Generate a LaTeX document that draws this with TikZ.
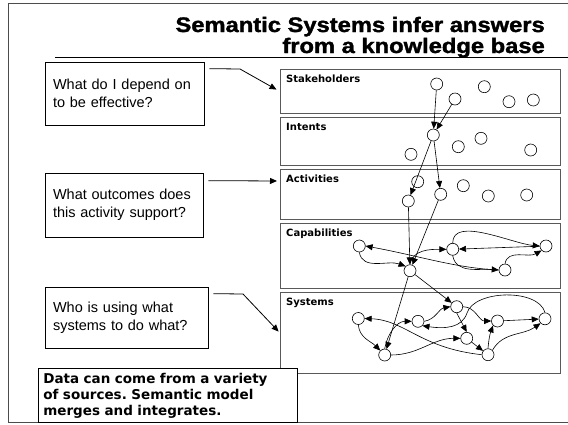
\documentclass[tikz,border=0pt]{standalone}
\usepackage{fontspec}
\setmainfont{Liberation Sans}
\newfontfamily\vsans{DejaVu Sans}
\newfontfamily\heavysans{Liberation Sans}[BoldFeatures={FakeBold=1.5}]
\usepackage{graphicx}
\usetikzlibrary{arrows.meta}
\frenchspacing

\tikzset{
  heading/.style={anchor=base east, inner sep=0pt, font=\heavysans\bfseries\fontsize{21}{23}\selectfont},
  panel/.style={draw=black!65, line width=1.1pt, minimum width=280pt, anchor=north west, inner sep=0pt},
  layer/.style={anchor=base west, inner sep=0pt, font=\vsans\bfseries\fontsize{10}{12}\selectfont},
  ent/.style={circle, draw, fill=white, minimum size=12pt, inner sep=0pt, line width=0.6pt},
  question/.style={draw, line width=0.7pt, align=left, inner xsep=8pt, font=\fontsize{14.5}{18}\selectfont},
  notebox/.style={draw, fill=white, line width=0.7pt, anchor=north west, align=left, inner xsep=5pt,
    font=\vsans\bfseries\fontsize{13.5}{16}\selectfont},
  link/.style={->, line width=0.6pt},
}

\begin{document}
\begin{tikzpicture}[x=1pt, y=1pt, >={Triangle[length=7pt,width=6pt]}]
\useasboundingbox (0,0) rectangle (568,-424);

% frame and heading
\draw[black!70, line width=0.9pt] (568,-3) -- (8,-3) -- (8,-422) -- (568,-422);
\node[heading] (head1) at (545,-32) {\scalebox{1.13}[1]{Semantic Systems infer answers}};
\node[heading] (head2) at (545,-53) {\scalebox{1.13}[1]{from a knowledge base}};
\draw[line width=0.8pt] (55,-57) -- (568,-57);

% layers of the knowledge base
\node[panel, minimum height=44pt] (stake) at (280,-69) {};
\node[panel, minimum height=48pt] (intent) at (280,-117) {};
\node[panel, minimum height=50pt] (act) at (280,-169) {};
\node[panel, minimum height=65pt] (capa) at (280,-223) {};
\node[panel, minimum height=81pt] (sys) at (280,-292) {};
\node[layer] (stakelbl) at ([shift={(6,-13.5)}]stake.north west) {Stakeholders};
\node[layer] (intentlbl) at ([shift={(6,-13.5)}]intent.north west) {Intents};
\node[layer] (actlbl) at ([shift={(6,-13.5)}]act.north west) {Activities};
\node[layer] (capalbl) at ([shift={(6,-13.5)}]capa.north west) {Capabilities};
\node[layer] (syslbl) at ([shift={(6,-13.5)}]sys.north west) {Systems};

% entities
\node[ent] (s1) at (436.7,-84) {}; \node[ent] (s2) at (484.3,-86.7) {};
\node[ent] (s3) at (455,-99) {}; \node[ent] (s4) at (509,-101.7) {}; \node[ent] (s5) at (533.3,-100) {};
\node[ent] (i1) at (433.3,-135) {}; \node[ent] (i2) at (481,-138.3) {};
\node[ent] (i3) at (458.3,-146.7) {}; \node[ent] (i4) at (411,-154.3) {}; \node[ent] (i5) at (530.7,-150) {};
\node[ent] (a1) at (417.7,-181.7) {}; \node[ent] (a2) at (463.3,-185.7) {}; \node[ent] (a3) at (440.7,-194.3) {};
\node[ent] (a4) at (408.3,-201) {}; \node[ent] (a5) at (488.3,-196) {}; \node[ent] (a6) at (526.7,-195) {};
\node[ent] (c1) at (359.3,-246) {}; \node[ent] (c2) at (410,-270.7) {}; \node[ent] (c3) at (452.7,-249.3) {};
\node[ent] (c4) at (505,-270) {}; \node[ent] (c5) at (546,-246) {};
\node[ent] (y1) at (358.3,-318.5) {}; \node[ent] (y2) at (384.7,-355) {}; \node[ent] (y3) at (418,-321.3) {};
\node[ent] (y4) at (456.7,-306.7) {}; \node[ent] (y5) at (466.7,-338.3) {}; \node[ent] (y6) at (497.5,-321) {};
\node[ent] (y7) at (488,-354.7) {}; \node[ent] (y8) at (545,-318.8) {};

% links between layers
\draw[link] (s1) -- (i1);
\draw[link] (s3) -- (i1);
\draw[link] (i1) -- (a4);
\draw[link] (i1) -- (a3);
\draw[link] (a4) -- (c2);
\draw[link] (a3) -- (c2);
\draw[link] (c2) -- (y2);
\draw[link] (c2) -- (y4);

% capabilities
\draw[link] (c4.west) .. controls (455,-268) and (420,-256) .. (c1.east);
\draw[link] (c1.south) to[out=-80, in=160] (c2.north west);
\draw[link] (c2.north) to[out=80, in=180] (c3.west);
\draw[link] (c5) -- (c3);
\draw[link] (c3.north) to[out=90, in=175, looseness=0.8] (c5.west);
\draw[link] (c3.south) to[out=-80, in=175] (c4.west);
\draw[link] (c4.north) to[out=80, in=-150] (c5.south west);

% systems
\draw[link] (y1.south) to[out=-85, in=135] (y2.north west);
\draw[link] (y7.west) .. controls (420,-348) and (405,-320) .. (y1.east);
\draw[link] (y2.north) to[out=80, in=180] (y3.west);
\draw[link] (y3.east) to[out=10, in=190] (y4.west);
\draw[link] (y8.north) .. controls (538,-288) and (474,-290) .. (467,-313)
  .. controls (462,-328) and (445,-329) .. (y3.south east);
\draw[link] (y4.south) -- (y5.north);
\draw[link] (y4.east) to[out=0, in=180] (y6.west);
\draw[link] (y6) -- (y8);
\draw[link] (y5) -- (y7);
\draw[link] (y2.east) to[out=0, in=180] (y5.west);
\draw[link] (y7.north) to[out=85, in=-110] (y6.south west);
\draw[link] (y7.north east) to[out=60, in=-145] (y8.south west);

% questions
\node[question, minimum width=159pt, minimum height=63pt, text width=143pt] (q1) at (124.5,-93.5)
  {What do I depend on\\to be effective?};
\node[question, minimum width=158pt, minimum height=64pt, text width=142pt] (q2) at (124,-205)
  {What outcomes does\\this activity support?};
\node[question, minimum width=163pt, minimum height=61pt, text width=147pt] (q3) at (126.5,-317.5)
  {Who is using what\\systems to do what?};
\coordinate (actin) at ([yshift=-12pt]act.north west);
\draw[->, line width=0.8pt, shorten >=4pt] ([shift={(5,-7)}]q1.north east) -- (240,-69) -- (stake.west);
\draw[->, line width=0.8pt, shorten >=3pt] ([shift={(5,-8)}]q2.north east) -- (actin);
\draw[->, line width=0.8pt, shorten >=2pt] ([shift={(5,-7)}]q3.north east) -- (243,-294) -- (sys.west);

% note
\node[notebox, minimum width=259pt, minimum height=54pt, text width=249pt] (note) at (38,-368)
  {Data can come from a variety\\of sources. Semantic model\\merges and integrates.};

\end{tikzpicture}
\end{document}
